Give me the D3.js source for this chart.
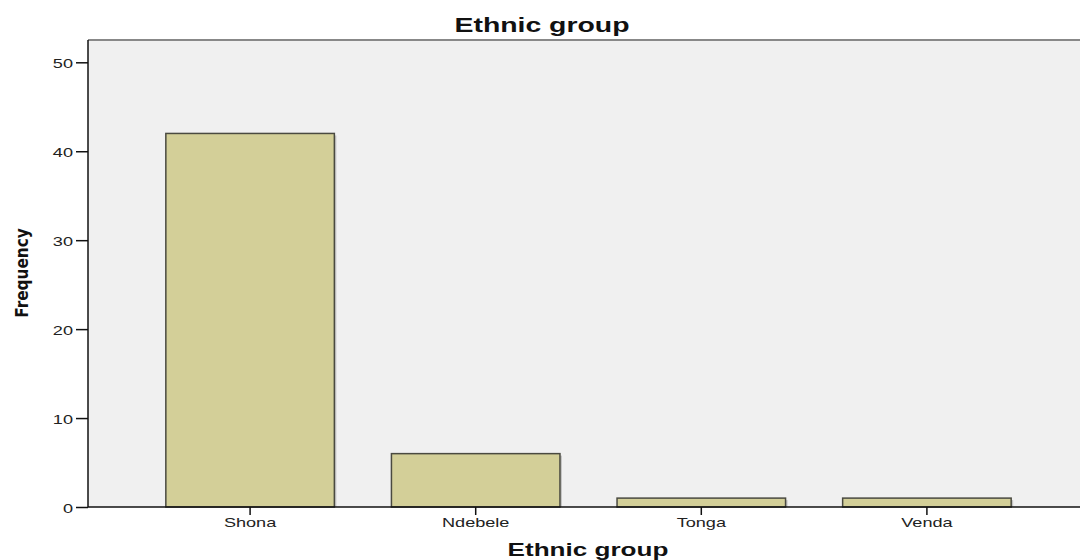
<!DOCTYPE html>
<html>
<head>
<meta charset="utf-8">
<script src="https://cdn.jsdelivr.net/npm/d3@7"></script>
<style>
	body { margin: 0; background: #fff; }
	svg { display: block; font-family: Arial, "Liberation Sans", sans-serif; }
	.tick text { fill: #222; font-size: 12.5px; }
</style>
</head>
<body>
<div id="chart"></div>
<script>
var categories = ["Shona", "Ndebele", "Tonga", "Venda"];
var frequencies = [42, 6, 1, 1];
var yTicks = [0, 10, 20, 30, 40, 50];

var width = 1080, height = 560;
var plot = { left: 88, top: 40, right: 1089, bottom: 507 };
var stretch = 1.45; // the original text is drawn wide

var svg = d3.select("#chart").append("svg")
	.attr("width", width)
	.attr("height", height);

var x = d3.scaleBand()
	.domain(categories)
	.range([plot.left, plot.right])
	.paddingInner(0.253)
	.paddingOuter(0.345);

var y = d3.scaleLinear()
	.domain([0, 50])
	.range([plot.bottom, 62.3]);

// plot background
svg.append("rect")
	.attr("x", plot.left)
	.attr("y", plot.top)
	.attr("width", plot.right - plot.left)
	.attr("height", plot.bottom - plot.top)
	.attr("fill", "#f0f0f0");

svg.append("line")
	.attr("x1", plot.left).attr("x2", width)
	.attr("y1", plot.top).attr("y2", plot.top)
	.attr("stroke", "#888").attr("stroke-width", 2);

// bar shadows
svg.append("g").selectAll("rect")
	.data(frequencies)
	.join("rect")
	.attr("x", (d, i) => x(categories[i]) + 2)
	.attr("y", (d) => y(d) + 2)
	.attr("width", x.bandwidth())
	.attr("height", (d) => y(0) - y(d) - 2)
	.attr("fill", "#c4c4c4");

svg.append("g").selectAll("rect")
	.data(frequencies)
	.join("rect")
	.attr("x", (d, i) => x(categories[i]))
	.attr("y", (d) => y(d))
	.attr("width", x.bandwidth())
	.attr("height", (d) => y(0) - y(d))
	.attr("fill", "#d3cf98")
	.attr("stroke", "#4a4a40")
	.attr("stroke-width", 1.5);

// axes
var yAxis = svg.append("g")
	.attr("transform", "translate(" + plot.left + ",0)")
	.call(d3.axisLeft(y).tickValues(yTicks).tickSize(12).tickPadding(3));
yAxis.select(".domain").remove();
yAxis.selectAll(".tick line").attr("stroke", "#111").attr("stroke-width", 1.5);
yAxis.selectAll(".tick text")
	.attr("x", -15 / stretch)
	.attr("dy", "0.45em")
	.attr("transform", "scale(" + stretch + ",1)");

svg.append("line")
	.attr("x1", plot.left).attr("x2", plot.left)
	.attr("y1", plot.top).attr("y2", plot.bottom)
	.attr("stroke", "#111").attr("stroke-width", 1.5);

var xAxis = svg.append("g")
	.attr("transform", "translate(0," + plot.bottom + ")")
	.call(d3.axisBottom(x).tickSize(8).tickPadding(3));
xAxis.select(".domain").remove();
xAxis.selectAll(".tick line").attr("stroke", "#111").attr("stroke-width", 1.5);
xAxis.selectAll(".tick text")
	.attr("transform", "scale(" + stretch + ",1)");

svg.append("line")
	.attr("x1", plot.left).attr("x2", width)
	.attr("y1", plot.bottom).attr("y2", plot.bottom)
	.attr("stroke", "#111").attr("stroke-width", 1.5);

// titles
svg.append("text")
	.attr("transform", "translate(542,31.5) scale(1.42,1)")
	.attr("text-anchor", "middle")
	.attr("font-size", "20px").attr("font-weight", "bold")
	.attr("fill", "#111")
	.text("Ethnic group");

svg.append("text")
	.attr("transform", "translate(588,556) scale(" + stretch + ",1)")
	.attr("text-anchor", "middle")
	.attr("font-size", "18px").attr("font-weight", "bold")
	.attr("fill", "#111")
	.text("Ethnic group");

svg.append("text")
	.attr("transform", "translate(28,273) rotate(-90)")
	.attr("text-anchor", "middle")
	.attr("font-family", "'Liberation Sans Narrow', 'DejaVu Sans Condensed', sans-serif")
	.attr("font-size", "17px").attr("font-weight", "bold")
	.attr("fill", "#111")
	.text("Frequency");
</script>
</body>
</html>
